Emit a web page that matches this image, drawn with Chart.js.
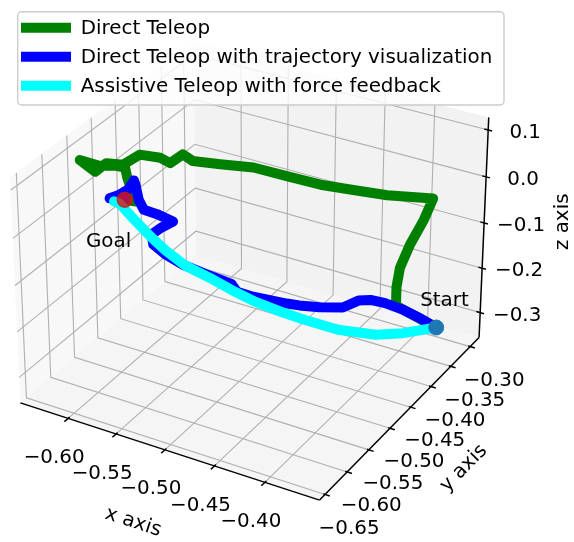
<!DOCTYPE html>
<html>
<head>
<meta charset="utf-8">
<script src="https://cdn.jsdelivr.net/npm/chart.js@4.4.1/dist/chart.umd.min.js"></script>
<style>
  html, body { margin: 0; padding: 0; background: #fff; }
  canvas { display: block; }
</style>
</head>
<body>
<canvas id="myChart" width="574" height="542"></canvas>
<script>
// box limits of the 3d axes (the drawn panes) and ticks
const xLimits = [-0.6506, -0.3467];
const yLimits = [-0.6622, -0.2766];
const zLimits = [-0.3567, 0.1266];
const xTicks = [-0.60, -0.55, -0.50, -0.45, -0.40];
const yTicks = [-0.65, -0.60, -0.55, -0.50, -0.45, -0.40, -0.35, -0.30];
const zTicks = [-0.3, -0.2, -0.1, 0.0, 0.1];
const xTickLabels = ['\u22120.60', '\u22120.55', '\u22120.50', '\u22120.45', '\u22120.40'];
const yTickLabels = ['\u22120.65', '\u22120.60', '\u22120.55', '\u22120.50', '\u22120.45', '\u22120.40', '\u22120.35', '\u22120.30'];
const zTickLabels = ['\u22120.3', '\u22120.2', '\u22120.1', '0.0', '0.1'];

// Direct Teleop
const greenX = [-0.370, -0.410, -0.410, -0.407, -0.3975, -0.385, -0.376, -0.410, -0.435, -0.459, -0.484, -0.508, -0.532, -0.552, -0.559, -0.568, -0.575, -0.590, -0.602, -0.614, -0.622, -0.6326, -0.619, -0.608, -0.600, -0.594, -0.586, -0.576, -0.587];
const greenY = [-0.331, -0.335, -0.335, -0.335, -0.335, -0.335, -0.335, -0.3645, -0.386, -0.407, -0.428, -0.4495, -0.4707, -0.4877, -0.4941, -0.5025, -0.5088, -0.5216, -0.5322, -0.5428, -0.550, -0.560, -0.5471, -0.5374, -0.532, -0.540, -0.548, -0.555, -0.560];
const greenZ = [-0.301, -0.274, -0.232, -0.187, -0.130, -0.071, -0.0175, -0.0066, 0.007, 0.021, 0.0415, 0.0626, 0.0725, 0.081, 0.096, 0.079, 0.091, 0.099, 0.079, 0.084, 0.067, 0.0934, 0.079, 0.078, 0.074, 0.063, 0.048, 0.034, 0.036];

// Direct Teleop with trajectory visualization
const blueX = [-0.370, -0.382, -0.394, -0.407, -0.4175, -0.426, -0.437, -0.4535, -0.4675, -0.4765, -0.500, -0.511, -0.515, -0.533, -0.548, -0.560, -0.568, -0.569, -0.562, -0.554, -0.565, -0.574, -0.577, -0.579, -0.580, -0.584, -0.591, -0.597, -0.587];
const blueY = [-0.331, -0.344, -0.356, -0.370, -0.381, -0.390, -0.4015, -0.419, -0.434, -0.4434, -0.468, -0.480, -0.484, -0.503, -0.519, -0.532, -0.541, -0.542, -0.535, -0.527, -0.538, -0.547, -0.551, -0.553, -0.554, -0.558, -0.565, -0.571, -0.560];
const blueZ = [-0.301, -0.276, -0.255, -0.236, -0.226, -0.225, -0.2375, -0.232, -0.224, -0.2175, -0.196, -0.182, -0.1635, -0.137, -0.113, -0.087, -0.063, -0.041, -0.028, -0.017, 0.001, 0.012, 0.034, 0.065, 0.076, 0.058, 0.047, 0.042, 0.036];

// Assistive Teleop with force feedback
const cyanX = [-0.370, -0.3936, -0.413, -0.440, -0.4645, -0.481, -0.4985, -0.5125, -0.5298, -0.547, -0.560, -0.570, -0.580, -0.590, -0.594];
const cyanY = [-0.331, -0.356, -0.3765, -0.405, -0.431, -0.448, -0.4668, -0.4814, -0.4996, -0.518, -0.532, -0.543, -0.554, -0.564, -0.568];
const cyanZ = [-0.301, -0.307, -0.305, -0.286, -0.256, -0.234, -0.207, -0.1817, -0.1466, -0.114, -0.078, -0.045, -0.008, 0.029, 0.035];

const startPoint = [-0.370, -0.331, -0.301];
const goalPoint = [-0.587, -0.560, 0.036];
const startLabelAt = [-0.387, -0.331, -0.263];
const goalLabelAt = [-0.629, -0.560, -0.089];

const seriesNames = ['Direct Teleop', 'Direct Teleop with trajectory visualization', 'Assistive Teleop with force feedback'];
const seriesColors = ['#008000', '#0000ff', '#00ffff'];

// ---- projection (matplotlib style, elev 30, azim -60, perspective) ----
const W = 574, H = 542;
const ELEV = 30, AZIM = -60, DIST = 10;
const CX = 253.8, CY = 260.6, SCALE = 3000;
const FONT = '19.9px "DejaVu Sans", sans-serif';

const dot = (a, b) => a[0] * b[0] + a[1] * b[1] + a[2] * b[2];
const cross = (a, b) => [a[1] * b[2] - a[2] * b[1], a[2] * b[0] - a[0] * b[2], a[0] * b[1] - a[1] * b[0]];
const norm = (a) => { const l = Math.hypot(a[0], a[1], a[2]); return a.map((v) => v / l); };

const boxAspect = (() => {
  const a = [4, 4, 3];
  const n = Math.hypot(a[0], a[1], a[2]);
  return a.map((v) => v * 1.8294640721620434 / n);
})();
const el = ELEV * Math.PI / 180, az = AZIM * Math.PI / 180;
const wv = [Math.cos(el) * Math.cos(az), Math.cos(el) * Math.sin(az), Math.sin(el)];
const uv = norm(cross([0, 0, 1], wv));
const vv = cross(wv, uv);

function project(x, y, z) {
  const lims = [xLimits, yLimits, zLimits];
  const q = [x, y, z].map((v, i) => (v - lims[i][0]) / (lims[i][1] - lims[i][0]) * boxAspect[i] - boxAspect[i] / 2);
  const d = DIST - dot(wv, q);
  return { x: CX + SCALE * dot(uv, q) / d, y: CY - SCALE * dot(vv, q) / d };
}

const toPoints = (xs, ys, zs) => xs.map((x, i) => project(x, ys[i], zs[i]));

// ---- panes, grid, axes, ticks ----
const axes3d = {
  id: 'axes3d',
  beforeDatasetsDraw(chart) {
    const ctx = chart.ctx;
    const sx = chart.scales.x, sy = chart.scales.y;
    const px = (x, y, z) => { const p = project(x, y, z); return [sx.getPixelForValue(p.x), sy.getPixelForValue(p.y)]; };
    const [x0, x1] = xLimits, [y0, y1] = yLimits, [z0, z1] = zLimits;

    const poly = (pts, fill, stroke, lw) => {
      ctx.beginPath();
      pts.forEach((p, i) => { const s = px(...p); if (i) ctx.lineTo(s[0], s[1]); else ctx.moveTo(s[0], s[1]); });
      if (fill) { ctx.closePath(); ctx.fillStyle = fill; ctx.fill(); }
      if (stroke) { ctx.strokeStyle = stroke; ctx.lineWidth = lw; ctx.stroke(); }
    };

    ctx.save();
    poly([[x0, y0, z0], [x0, y1, z0], [x0, y1, z1], [x0, y0, z1]], 'rgba(242,242,242,0.5)');
    poly([[x0, y1, z0], [x1, y1, z0], [x1, y1, z1], [x0, y1, z1]], 'rgba(230,230,230,0.5)');
    poly([[x0, y0, z0], [x1, y0, z0], [x1, y1, z0], [x0, y1, z0]], 'rgba(236,236,236,0.5)');

    ctx.lineJoin = 'miter';
    xTicks.forEach((t) => poly([[t, y0, z0], [t, y1, z0], [t, y1, z1]], null, '#b0b0b0', 1.1));
    yTicks.forEach((t) => poly([[x1, t, z0], [x0, t, z0], [x0, t, z1]], null, '#b0b0b0', 1.1));
    zTicks.forEach((t) => poly([[x0, y0, t], [x0, y1, t], [x1, y1, t]], null, '#b0b0b0', 1.1));

    poly([[x0, y0, z0], [x1, y0, z0]], null, '#000', 1.5);
    poly([[x1, y0, z0], [x1, y1, z0]], null, '#000', 1.5);
    poly([[x1, y1, z0], [x1, y1, z1]], null, '#000', 1.5);

    const dir = (a, b) => { const l = Math.hypot(b[0] - a[0], b[1] - a[1]); return [(b[0] - a[0]) / l, (b[1] - a[1]) / l]; };
    const tick = (p, d, inner, outer) => {
      ctx.beginPath();
      ctx.moveTo(p[0] - d[0] * inner, p[1] - d[1] * inner);
      ctx.lineTo(p[0] + d[0] * outer, p[1] + d[1] * outer);
      ctx.strokeStyle = '#000';
      ctx.lineWidth = 1.5;
      ctx.stroke();
    };
    const label = (text, p, dx, dy, rot) => {
      ctx.save();
      ctx.translate(p[0] + dx, p[1] + dy);
      if (rot) ctx.rotate(rot);
      ctx.fillText(text, 0, 0);
      ctx.restore();
    };

    ctx.font = FONT;
    ctx.fillStyle = '#000';
    ctx.textAlign = 'center';
    ctx.textBaseline = 'middle';

    xTicks.forEach((t, i) => {
      const p = px(t, y0, z0);
      tick(p, dir(p, px(t, y0 - 0.01, z0)), 2, 5);
      label(xTickLabels[i], p, -14, 39.5);
    });
    yTicks.forEach((t, i) => {
      const p = px(x1, t, z0);
      tick(p, dir(p, px(x1 + 0.01, t, z0)), 2, 5);
      label(yTickLabels[i], p, 24, 34);
    });
    zTicks.forEach((t, i) => {
      const p = px(x1, y1, t);
      tick(p, dir(p, px(x1 + 0.01, y1, t)), 4, 4);
      label(zTickLabels[i], p, 37, 3);
    });

    const xMid = px((x0 + x1) / 2, y0, z0);
    const yMid = px(x1, (y0 + y1) / 2, z0);
    const zMid = px(x1, y1, (z0 + z1) / 2);
    const xa = px(x0, y0, z0), xb = px(x1, y0, z0);
    const ya = px(x1, y0, z0), yb = px(x1, y1, z0);
    label('x axis', xMid, -33, 72, Math.atan2(xb[1] - xa[1], xb[0] - xa[0]));
    label('y axis', yMid, 61, 53, Math.atan2(yb[1] - ya[1], yb[0] - ya[0]));
    label('z axis', zMid, 79.5, -8, -Math.PI / 2);
    ctx.restore();
  },
  afterDatasetsDraw(chart) {
    const ctx = chart.ctx;
    const sx = chart.scales.x, sy = chart.scales.y;
    const px = (p3) => { const p = project(...p3); return [sx.getPixelForValue(p.x), sy.getPixelForValue(p.y)]; };
    ctx.save();
    ctx.font = FONT;
    ctx.fillStyle = '#000';
    ctx.textAlign = 'left';
    ctx.textBaseline = 'alphabetic';
    const s = px(startLabelAt), g = px(goalLabelAt);
    ctx.fillText('Start', s[0], s[1]);
    ctx.fillText('Goal', g[0], g[1]);

    // legend box, upper left
    ctx.beginPath();
    ctx.roundRect(17.7, 11.7, 486.3, 93.3, 4);
    ctx.fillStyle = 'rgba(255,255,255,0.8)';
    ctx.fill();
    ctx.strokeStyle = '#cccccc';
    ctx.lineWidth = 1.4;
    ctx.stroke();
    seriesNames.forEach((name, i) => {
      const yRow = 27.7 + i * 29;
      ctx.beginPath();
      ctx.moveTo(21, yRow);
      ctx.lineTo(71, yRow);
      ctx.strokeStyle = seriesColors[i];
      ctx.lineWidth = 10;
      ctx.lineCap = 'butt';
      ctx.stroke();
      ctx.fillStyle = '#000';
      ctx.textBaseline = 'middle';
      ctx.fillText(name, 80.7, yRow + 1);
    });
    ctx.restore();
  }
};

const lineStyle = { showLine: true, borderWidth: 10, pointRadius: 0, pointHoverRadius: 0, borderJoinStyle: 'round', borderCapStyle: 'round', clip: false };

new Chart(document.getElementById('myChart'), {
  type: 'scatter',
  data: {
    datasets: [
      { ...lineStyle, label: seriesNames[0], data: toPoints(greenX, greenY, greenZ), borderColor: seriesColors[0], order: 5 },
      { ...lineStyle, label: seriesNames[1], data: toPoints(blueX, blueY, blueZ), borderColor: seriesColors[1], order: 4 },
      { ...lineStyle, label: seriesNames[2], data: toPoints(cyanX, cyanY, cyanZ), borderColor: seriesColors[2], order: 3 },
      { label: 'Start', data: [project(...startPoint)], pointRadius: 7.5, pointBackgroundColor: '#1f77b4', pointBorderColor: '#1f77b4', pointBorderWidth: 1, order: 2, clip: false },
      { label: 'Goal', data: [project(...goalPoint)], pointRadius: 7.5, pointBackgroundColor: 'rgba(220,20,20,0.8)', pointBorderColor: 'rgba(200,20,20,0.85)', pointBorderWidth: 1.2, order: 1, clip: false }
    ]
  },
  options: {
    responsive: false,
    animation: false,
    devicePixelRatio: 1,
    layout: { padding: 0, autoPadding: false },
    plugins: { legend: { display: false }, tooltip: { enabled: false } },
    scales: {
      x: { type: 'linear', min: 0, max: W, display: false },
      y: { type: 'linear', min: 0, max: H, reverse: true, display: false }
    }
  },
  plugins: [axes3d]
});
</script>
</body>
</html>
